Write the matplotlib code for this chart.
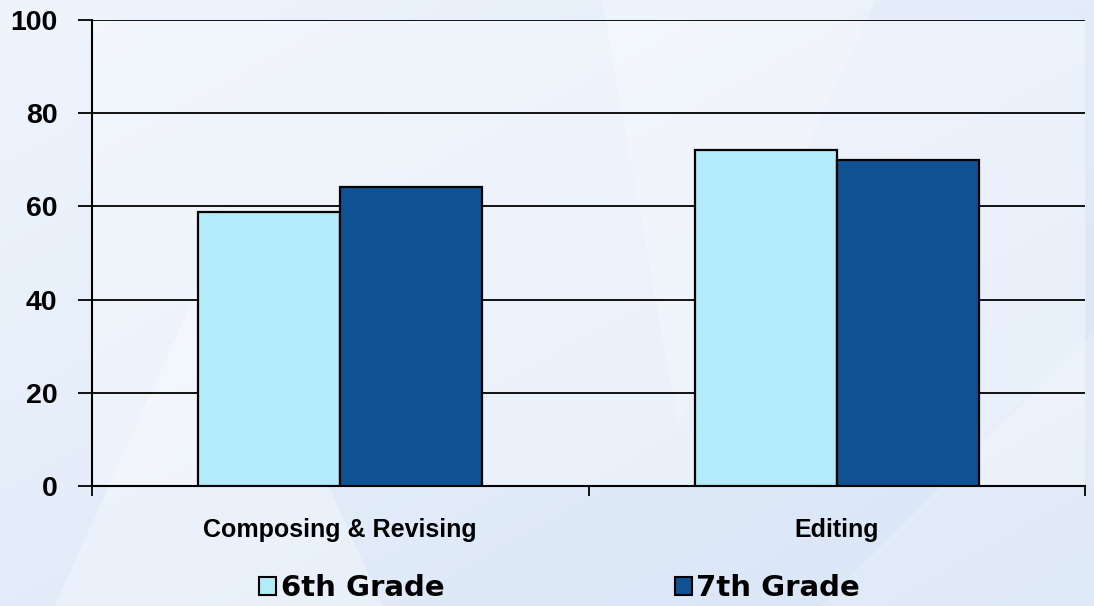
import numpy as np
import matplotlib.pyplot as plt
from matplotlib.colors import LinearSegmentedColormap
from matplotlib.patches import Polygon

plt.rcParams['font.family'] = ['Liberation Sans', 'DejaVu Sans']

categories = ['Composing & Revising', 'Editing']
grade6 = [58.8, 72.1]
grade7 = [64.2, 70.0]
series_names = ['6th Grade', '7th Grade']
colors = ['#b3ebfa', '#0f5294']

fig = plt.figure(figsize=(10.94, 6.06), dpi=100)

# soft blue backdrop
bg = fig.add_axes([0, 0, 1, 1], zorder=-10)
yy, xx = np.mgrid[0:1:200j, 0:1:200j]
grad = 0.5 * xx + 0.5 * (1 - yy)
cmap = LinearSegmentedColormap.from_list('bgc', ['#eef4fc', '#d8e5f6'])
bg.imshow(grad, cmap=cmap, extent=[0, 1, 0, 1], aspect='auto', origin='lower')
for pts, a in [([(0.05, 0.0), (0.35, 0.0), (0.2, 0.6)], 0.3),
               ([(0.55, 1.0), (0.8, 1.0), (0.62, 0.3)], 0.25),
               ([(0.75, 0.0), (1.0, 0.0), (1.0, 0.45)], 0.2)]:
    bg.add_patch(Polygon(pts, closed=True, facecolor='white', alpha=a, lw=0))
bg.set_xlim(0, 1)
bg.set_ylim(0, 1)
bg.axis('off')

ax = fig.add_axes([92 / 1094, 1 - 486 / 606, 993 / 1094, 466 / 606])
ax.patch.set_facecolor('white')
ax.patch.set_alpha(0.35)

x = np.arange(len(categories))
w = 0.286
ax.bar(x - w / 2, grade6, w, color=colors[0], edgecolor='black', linewidth=1.6,
       label=series_names[0], zorder=3)
ax.bar(x + w / 2, grade7, w, color=colors[1], edgecolor='black', linewidth=1.6,
       label=series_names[1], zorder=3)

ax.set_xlim(-0.5, 1.5)
ax.set_ylim(0, 100)
ax.set_yticks([0, 20, 40, 60, 80, 100])
ax.yaxis.grid(True, color='black', linewidth=1.3, zorder=0)
ax.set_axisbelow(True)

ax.set_xticks([-0.5, 0.5, 1.5])
ax.set_xticklabels([])
ax.tick_params(axis='x', length=7, width=1.3, direction='out')
ax.tick_params(axis='y', length=10, width=1.3, direction='out', pad=15,
               labelsize=20.5)
for lbl in ax.get_yticklabels():
    lbl.set_fontweight('bold')
for i, c in enumerate(categories):
    ax.text(i, -9.4, c, ha='center', va='center', fontsize=18, fontweight='bold')

for s in ['top', 'right']:
    ax.spines[s].set_visible(False)
ax.spines['left'].set_linewidth(1.5)
ax.spines['bottom'].set_linewidth(1.5)

leg = fig.legend(loc='center', bbox_to_anchor=(0.5114, 0.029), ncol=2, frameon=False,
                 prop={'family': 'DejaVu Sans', 'size': 21, 'weight': 'bold'},
                 handlelength=0.6, handleheight=0.6, handletextpad=0.15,
                 columnspacing=7.9)
for h in leg.legend_handles:
    h.set_linewidth(1.5)

fig.savefig('out.png', dpi=100)
